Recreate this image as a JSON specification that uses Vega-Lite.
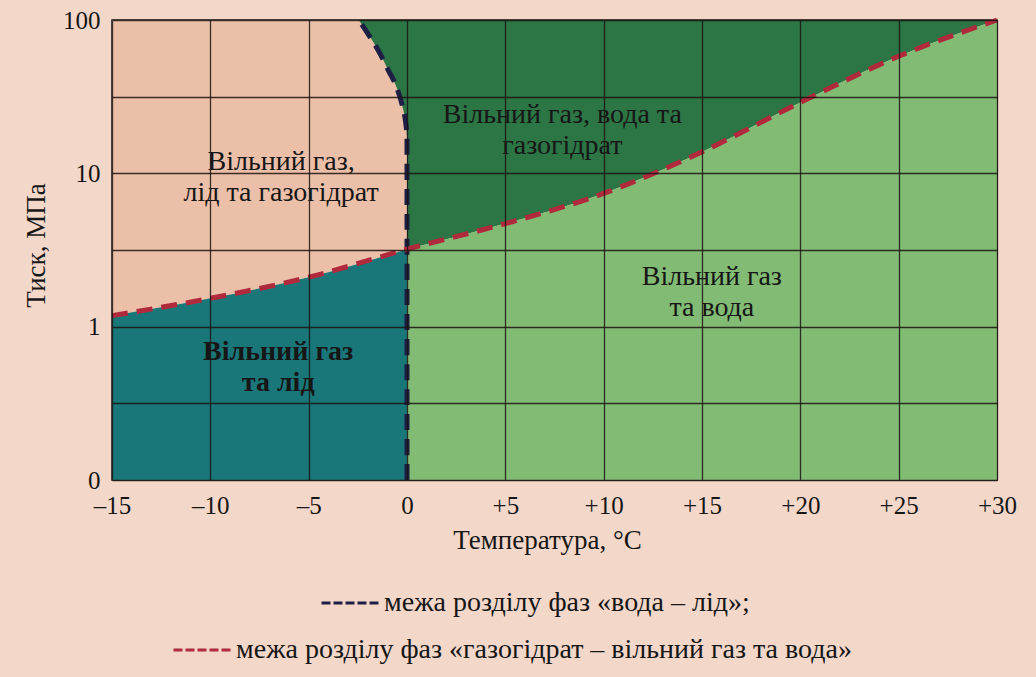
{
  "$schema": "https://vega.github.io/schema/vega-lite/v6.json",
  "width": 885,
  "height": 460,
  "autosize": {"type": "none"},
  "padding": {"left": 112, "top": 20, "right": 39, "bottom": 197},
  "background": "#f3d8ca",
  "config": {
    "view": {"stroke": "#1a1a1a", "strokeWidth": 1.5},
    "font": "Liberation Serif",
    "axis": {
      "labelFont": "Liberation Serif",
      "titleFont": "Liberation Serif",
      "labelFontSize": 25,
      "titleFontSize": 27,
      "titleFontWeight": "normal",
      "labelColor": "#161616",
      "titleColor": "#161616",
      "grid": true,
      "gridColor": "#1b1410",
      "gridOpacity": 0.85,
      "gridWidth": 1.3,
      "ticks": false,
      "domain": false,
      "labelFlush": false,
      "labelOverlap": false
    },
    "legend": {
      "labelFont": "Liberation Serif",
      "labelFontSize": 28,
      "labelColor": "#161616",
      "labelLimit": 0,
      "symbolType": "stroke",
      "symbolSize": 3249,
      "symbolStrokeWidth": 3,
      "symbolDash": [9, 3],
      "labelOffset": 4,
      "title": null
    }
  },
  "datasets": {
    "bands": [
      {"region": "ice_hydrate", "T": -15, "lo": 1.18, "hi": 100},
      {"region": "ice_hydrate", "T": -10, "lo": 1.53, "hi": 100},
      {"region": "ice_hydrate", "T": -5, "lo": 2.1, "hi": 100},
      {"region": "ice_hydrate", "T": 0, "lo": 3.2, "hi": 100},
      {"region": "ice", "T": -15, "lo": 0.1, "hi": 1.18},
      {"region": "ice", "T": -10, "lo": 0.1, "hi": 1.53},
      {"region": "ice", "T": -5, "lo": 0.1, "hi": 2.1},
      {"region": "ice", "T": 0, "lo": 0.1, "hi": 3.2},
      {"region": "water_hydrate", "T": 0, "lo": 3.2, "hi": 100},
      {"region": "water_hydrate", "T": 5, "lo": 4.7, "hi": 100},
      {"region": "water_hydrate", "T": 10, "lo": 7.4, "hi": 100},
      {"region": "water_hydrate", "T": 15, "lo": 13.8, "hi": 100},
      {"region": "water_hydrate", "T": 20, "lo": 29, "hi": 100},
      {"region": "water_hydrate", "T": 25, "lo": 58, "hi": 100},
      {"region": "water_hydrate", "T": 30, "lo": 100, "hi": 100},
      {"region": "water", "T": 0, "lo": 0.1, "hi": 3.2},
      {"region": "water", "T": 5, "lo": 0.1, "hi": 4.7},
      {"region": "water", "T": 10, "lo": 0.1, "hi": 7.4},
      {"region": "water", "T": 15, "lo": 0.1, "hi": 13.8},
      {"region": "water", "T": 20, "lo": 0.1, "hi": 29},
      {"region": "water", "T": 25, "lo": 0.1, "hi": 58},
      {"region": "water", "T": 30, "lo": 0.1, "hi": 100}
    ],
    "sliver": [
      {"p": 17.4, "T": 0, "T0": 0},
      {"p": 22, "T": -0.08, "T0": 0},
      {"p": 28, "T": -0.25, "T0": 0},
      {"p": 37, "T": -0.55, "T0": 0},
      {"p": 47, "T": -0.95, "T0": 0},
      {"p": 63, "T": -1.45, "T0": 0},
      {"p": 80, "T": -1.95, "T0": 0},
      {"p": 100, "T": -2.45, "T0": 0}
    ],
    "iceline": [
      {"boundary": "межа розділу фаз «вода – лід»;", "T": 0, "p": 0.1},
      {"boundary": "межа розділу фаз «вода – лід»;", "T": 0, "p": 17.4},
      {"boundary": "межа розділу фаз «вода – лід»;", "T": -0.08, "p": 22},
      {"boundary": "межа розділу фаз «вода – лід»;", "T": -0.25, "p": 28},
      {"boundary": "межа розділу фаз «вода – лід»;", "T": -0.55, "p": 37},
      {"boundary": "межа розділу фаз «вода – лід»;", "T": -0.95, "p": 47},
      {"boundary": "межа розділу фаз «вода – лід»;", "T": -1.45, "p": 63},
      {"boundary": "межа розділу фаз «вода – лід»;", "T": -1.95, "p": 80},
      {"boundary": "межа розділу фаз «вода – лід»;", "T": -2.45, "p": 100}
    ],
    "hydrateline": [
      {"boundary": "межа розділу фаз «газогідрат – вільний газ та вода»", "T": -15, "p": 1.18},
      {"boundary": "межа розділу фаз «газогідрат – вільний газ та вода»", "T": -10, "p": 1.53},
      {"boundary": "межа розділу фаз «газогідрат – вільний газ та вода»", "T": -5, "p": 2.1},
      {"boundary": "межа розділу фаз «газогідрат – вільний газ та вода»", "T": 0, "p": 3.2},
      {"boundary": "межа розділу фаз «газогідрат – вільний газ та вода»", "T": 5, "p": 4.7},
      {"boundary": "межа розділу фаз «газогідрат – вільний газ та вода»", "T": 10, "p": 7.4},
      {"boundary": "межа розділу фаз «газогідрат – вільний газ та вода»", "T": 15, "p": 13.8},
      {"boundary": "межа розділу фаз «газогідрат – вільний газ та вода»", "T": 20, "p": 29},
      {"boundary": "межа розділу фаз «газогідрат – вільний газ та вода»", "T": 25, "p": 58},
      {"boundary": "межа розділу фаз «газогідрат – вільний газ та вода»", "T": 30, "p": 100}
    ],
    "labels": [
      {"region": "ice_hydrate", "T": -6.4, "p": 11.8, "label": "Вільний газ,\nлід та газогідрат"},
      {"region": "water_hydrate", "T": 7.9, "p": 24, "label": "Вільний газ, вода та\nгазогідрат"},
      {"region": "water", "T": 15.5, "p": 2.1, "label": "Вільний газ\nта вода"}
    ],
    "labels_bold": [
      {"region": "ice", "T": -6.55, "p": 0.68, "label": "Вільний газ\nта лід"}
    ]
  },
  "layer": [
    {
      "data": {"name": "bands"},
      "mark": {"type": "area", "interpolate": "monotone", "strokeWidth": 0},
      "encoding": {
        "x": {
          "field": "T", "type": "quantitative",
          "scale": {"domain": [-15, 30], "nice": false, "zero": false},
          "axis": {
            "title": "Температура, °C",
            "grid": true,
            "zindex": 1,
            "values": [-15, -10, -5, 0, 5, 10, 15, 20, 25, 30],
            "labelExpr": "datum.value > 0 ? '+' + datum.value : (datum.value < 0 ? '–' + abs(datum.value) : '0')",
            "labelPadding": 13,
            "titlePadding": 9,
            "titleX": 435
          }
        },
        "y": {
          "field": "lo", "type": "quantitative",
          "scale": {"type": "log", "domain": [0.1, 100], "nice": false},
          "axis": {
            "title": "Тиск, МПа",
            "grid": true,
            "zindex": 1,
            "values": [0.1, 0.31623, 1, 3.1623, 10, 31.623, 100],
            "labelExpr": "datum.value == 0.1 ? '0' : (datum.value == 1 ? '1' : (datum.value == 10 ? '10' : (datum.value == 100 ? '100' : '')))",
            "labelPadding": 12,
            "titlePadding": 12,
            "titleY": 225
          }
        },
        "y2": {"field": "hi"},
        "color": {
          "field": "region", "type": "nominal",
          "scale": {
            "domain": ["ice_hydrate", "ice", "water_hydrate", "water"],
            "range": ["#ecc0a8", "#19777a", "#2c7545", "#82bb74"]
          },
          "legend": null
        }
      }
    },
    {
      "data": {"name": "sliver"},
      "mark": {"type": "area", "orient": "horizontal", "interpolate": "monotone", "color": "#2c7545", "strokeWidth": 0},
      "encoding": {
        "y": {"field": "p", "type": "quantitative"},
        "x": {"field": "T", "type": "quantitative"},
        "x2": {"field": "T0"}
      }
    },
    {
      "data": {"name": "iceline"},
      "mark": {"type": "line", "orient": "horizontal", "interpolate": "monotone", "strokeWidth": 5, "strokeDash": [16, 9]},
      "encoding": {
        "x": {"field": "T", "type": "quantitative"},
        "y": {"field": "p", "type": "quantitative"},
        "order": {"field": "p", "type": "quantitative"},
        "stroke": {
          "field": "boundary", "type": "nominal",
          "scale": {"range": ["#1d1f45"]},
          "legend": {"orient": "none", "legendX": 208, "legendY": 553}
        }
      }
    },
    {
      "data": {"name": "hydrateline"},
      "mark": {"type": "line", "interpolate": "monotone", "strokeWidth": 5, "strokeDash": [16, 9]},
      "encoding": {
        "x": {"field": "T", "type": "quantitative"},
        "y": {"field": "p", "type": "quantitative"},
        "stroke": {
          "field": "boundary", "type": "nominal",
          "scale": {"range": ["#b02a3c"]},
          "legend": {"orient": "none", "legendX": 60, "legendY": 600}
        }
      }
    },
    {
      "data": {"name": "labels"},
      "mark": {"type": "text", "font": "Liberation Serif", "fontSize": 28, "lineBreak": "\n", "lineHeight": 31, "align": "center", "baseline": "middle", "color": "#161616"},
      "encoding": {
        "x": {"field": "T", "type": "quantitative"},
        "y": {"field": "p", "type": "quantitative"},
        "text": {"field": "label"}
      }
    },
    {
      "data": {"name": "labels_bold"},
      "mark": {"type": "text", "font": "Liberation Serif", "fontSize": 28, "fontWeight": "bold", "lineBreak": "\n", "lineHeight": 31, "align": "center", "baseline": "middle", "color": "#161616"},
      "encoding": {
        "x": {"field": "T", "type": "quantitative"},
        "y": {"field": "p", "type": "quantitative"},
        "text": {"field": "label"}
      }
    }
  ],
  "resolve": {"scale": {"stroke": "independent"}, "legend": {"stroke": "independent"}}
}
